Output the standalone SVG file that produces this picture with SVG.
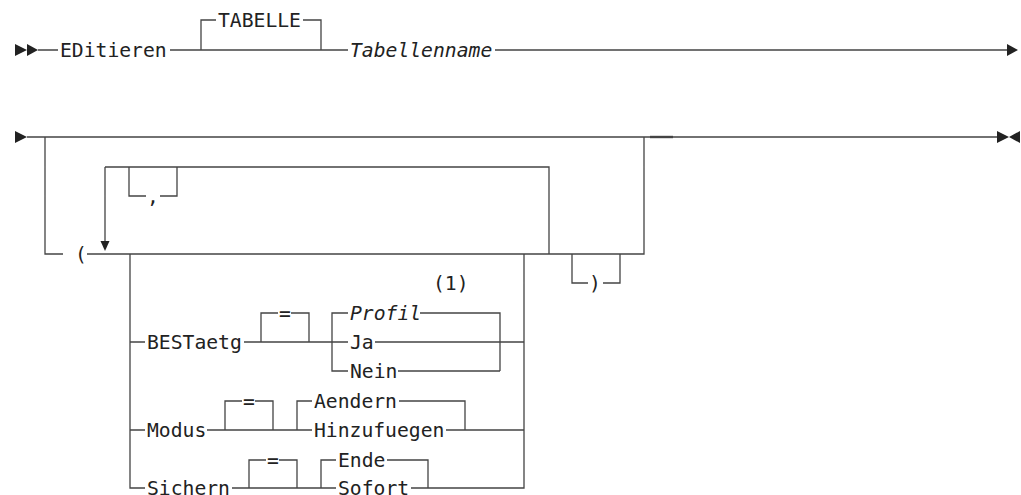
<svg xmlns="http://www.w3.org/2000/svg" width="1021" height="495" viewBox="0 0 1021 495">
<style>
.ln{fill:none;stroke:#444;stroke-width:1.3}
.ah{fill:#222;stroke:none}
.t{font-family:"DejaVu Sans Mono","Liberation Mono",monospace;font-size:19.7px;fill:#222}
.i{font-style:italic}
.m{text-anchor:middle}
</style>
<rect width="1021" height="495" fill="#fff"/>
<g id="connectors">
<path class="ln" d="M38,50 H58 M170,50 H348 M201,50 V20 H216 M303,20 H321 V50 M495,50 H1008"/>
<path class="ln" d="M27,137 H997 M45,137 V254 H63 M87,254 H644 V137 M105,167 H549 V254 M105,167 V242 M129,167 V196 H146 M160,196 H177 V167 M572,254 V283 H588 M603,283 H620 V254 M130,254 V488 H145 M524,254 V488 H411"/>
<path class="ln" d="M650,137 H673" style="stroke-width:2.4"/>
<path class="ln" d="M130,342 H145 M244,342 H348 M261,342 V313 H278 M291,313 H309 V342 M332,342 V313 H348 M420,313 H500 V371 M332,342 V371 H348 M398,371 H500 M375,342 H524"/>
<path class="ln" d="M130,430 H145 M207,430 H312 M225,430 V401 H242 M255,401 H273 V430 M297,430 V401 H312 M399,401 H465 V430 M446,430 H524"/>
<path class="ln" d="M232,488 H336 M249,488 V460 H266 M279,460 H297 V488 M321,488 V460 H336 M387,460 H428 V488"/>
<polygon class="ah" points="15,44 27,50 15,56"/>
<polygon class="ah" points="27,44 38,50 27,56"/>
<polygon class="ah" points="1007,44 1018,50 1007,56"/>
<polygon class="ah" points="15,131 27,137 15,143"/>
<polygon class="ah" points="997,131 1009,137 997,143"/>
<polygon class="ah" points="1020,131 1009,137 1020,143"/>
<polygon class="ah" points="100.5,241 109.5,241 105,251"/>
</g>
<g id="n-editieren"><text class="t" x="60" y="57">EDitieren</text></g>
<g id="n-tabelle"><text class="t" x="218" y="27">TABELLE</text></g>
<g id="n-tabellenname"><text class="t i" x="350" y="57">Tabellenname</text></g>
<g id="n-lparen"><text class="t m" x="81" y="261">(</text></g>
<g id="n-comma"><text class="t m" x="153" y="203">,</text></g>
<g id="n-rparen"><text class="t m" x="595" y="290">)</text></g>
<g id="n-bestaetg"><text class="t" x="147" y="349">BESTaetg</text></g>
<g id="n-eq1"><text class="t m" x="285" y="320">=</text></g>
<g id="n-note"><text class="t" x="433" y="290">(1)</text></g>
<g id="n-profil"><text class="t i" x="350" y="320">Profil</text></g>
<g id="n-ja"><text class="t" x="350" y="349">Ja</text></g>
<g id="n-nein"><text class="t" x="350" y="378">Nein</text></g>
<g id="n-modus"><text class="t" x="147" y="437">Modus</text></g>
<g id="n-eq2"><text class="t m" x="249" y="408">=</text></g>
<g id="n-aendern"><text class="t" x="314" y="408">Aendern</text></g>
<g id="n-hinzufuegen"><text class="t" x="314" y="437">Hinzufuegen</text></g>
<g id="n-sichern"><text class="t" x="147" y="495">Sichern</text></g>
<g id="n-eq3"><text class="t m" x="273" y="467">=</text></g>
<g id="n-ende"><text class="t" x="338" y="467">Ende</text></g>
<g id="n-sofort"><text class="t" x="338" y="495">Sofort</text></g>
</svg>
